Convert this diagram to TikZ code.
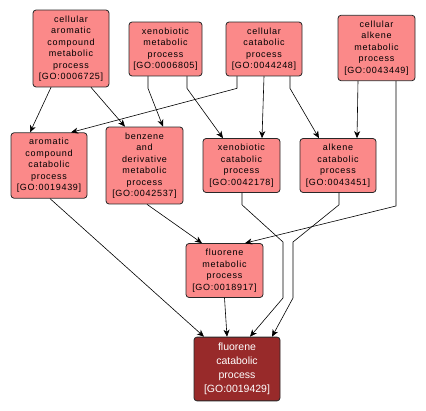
\documentclass[tikz,border=0pt]{standalone}
\usepackage{fontspec}
\setmainfont{Liberation Sans}
\newfontfamily\gofont[LetterSpace=8]{Liberation Sans}
\usetikzlibrary{arrows.meta}
\definecolor{GOfill}{RGB}{251,137,137}
\definecolor{GOdark}{RGB}{152,42,42}
\definecolor{GOline}{RGB}{40,40,40}

\tikzset{
  term/.style={draw=GOline,line width=0.8pt,fill=GOfill,rounded corners=3pt,align=center,
    inner xsep=4pt,inner ysep=5.5pt,minimum width=76pt,
    font=\gofont\fontsize{9}{11.5}\selectfont},
  target/.style={term,fill=GOdark,text=white,minimum width=86pt,inner ysep=6pt,
    font=\fontsize{10.5}{14}\selectfont},
  isa/.style={draw=black,line width=0.6pt,-{Stealth[length=7pt,width=6pt,inset=2pt]}}
}

\begin{document}
\begin{tikzpicture}[x=1pt,y=-1pt,line cap=round,line join=round]
\path[use as bounding box] (0,0) rectangle (426,411);
% top row
\node[term] (n6725) at (71,48.5) {cellular\\aromatic\\compound\\metabolic\\process\\{[GO:0006725]}};
\node[term,minimum width=73pt] (n6805) at (165.5,49) {xenobiotic\\metabolic\\process\\{[GO:0006805]}};
\node[term] (n44248) at (264,49) {cellular\\catabolic\\process\\{[GO:0044248]}};
\node[term,minimum width=77pt] (n43449) at (376.5,48) {cellular\\alkene\\metabolic\\process\\{[GO:0043449]}};
% middle row
\node[term] (n19439) at (49,165.5) {aromatic\\compound\\catabolic\\process\\{[GO:0019439]}};
\node[term,minimum width=77pt] (n42537) at (144.5,165.5) {benzene\\and\\derivative\\metabolic\\process\\{[GO:0042537]}};
\node[term,minimum width=77pt] (n42178) at (241.5,165.5) {xenobiotic\\catabolic\\process\\{[GO:0042178]}};
\node[term] (n43451) at (338,165.5) {alkene\\catabolic\\process\\{[GO:0043451]}};
\node[term,minimum width=77pt] (n18917) at (224.5,270.5) {fluorene\\metabolic\\process\\{[GO:0018917]}};
% bottom
\node[target] (n19429) at (237,369) {fluorene\\catabolic\\process\\{[GO:0019429]}};

% is_a links
\draw[isa] ([xshift=-20pt]n6725.south) -- ([xshift=-19pt]n19439.north);
\draw[isa] ([xshift=20pt]n6725.south) -- ([xshift=-19.5pt]n42537.north);
\draw[isa] ([xshift=-17.5pt]n6805.south) -- ++(0,12) -- ([xshift=18.5pt]n42537.north);
\draw[isa] ([xshift=21.5pt]n6805.south) -- ++(0,12) -- ([xshift=-18.5pt]n42178.north);
\draw[isa] ([xshift=-27pt]n44248.south) -- ++(0,12) -- ([xshift=22pt]n19439.north);
\draw[isa] (n44248.south) -- ([xshift=20.5pt]n42178.north);
\draw[isa] ([xshift=26pt]n44248.south) -- ++(0,12) -- ([xshift=-19pt]n43451.north);
\draw[isa] ([xshift=-18.5pt]n43449.south) -- ([xshift=19pt]n43451.north);
\draw[isa] ([xshift=19.5pt]n43449.south) -- (396,206) -- ([xshift=20.5pt]n18917.north);
\draw[isa] ([xshift=2.5pt]n42537.south) -- ([xshift=-22.5pt]n18917.north);
\draw[isa] ([xshift=1pt]n19439.south) -- ([xshift=-33pt]n19429.north);
\draw[isa] (n18917.south) -- ([xshift=-10pt]n19429.north);
\draw[isa] ([xshift=0.5pt]n42178.south) -- ++(0,12) -- (283,242) -- (283,298) -- ([xshift=13pt]n19429.north);
\draw[isa] ([xshift=1pt]n43451.south) -- ++(0,12) -- (293,242) -- (293,298) -- ([xshift=35pt]n19429.north);
\end{tikzpicture}
\end{document}
